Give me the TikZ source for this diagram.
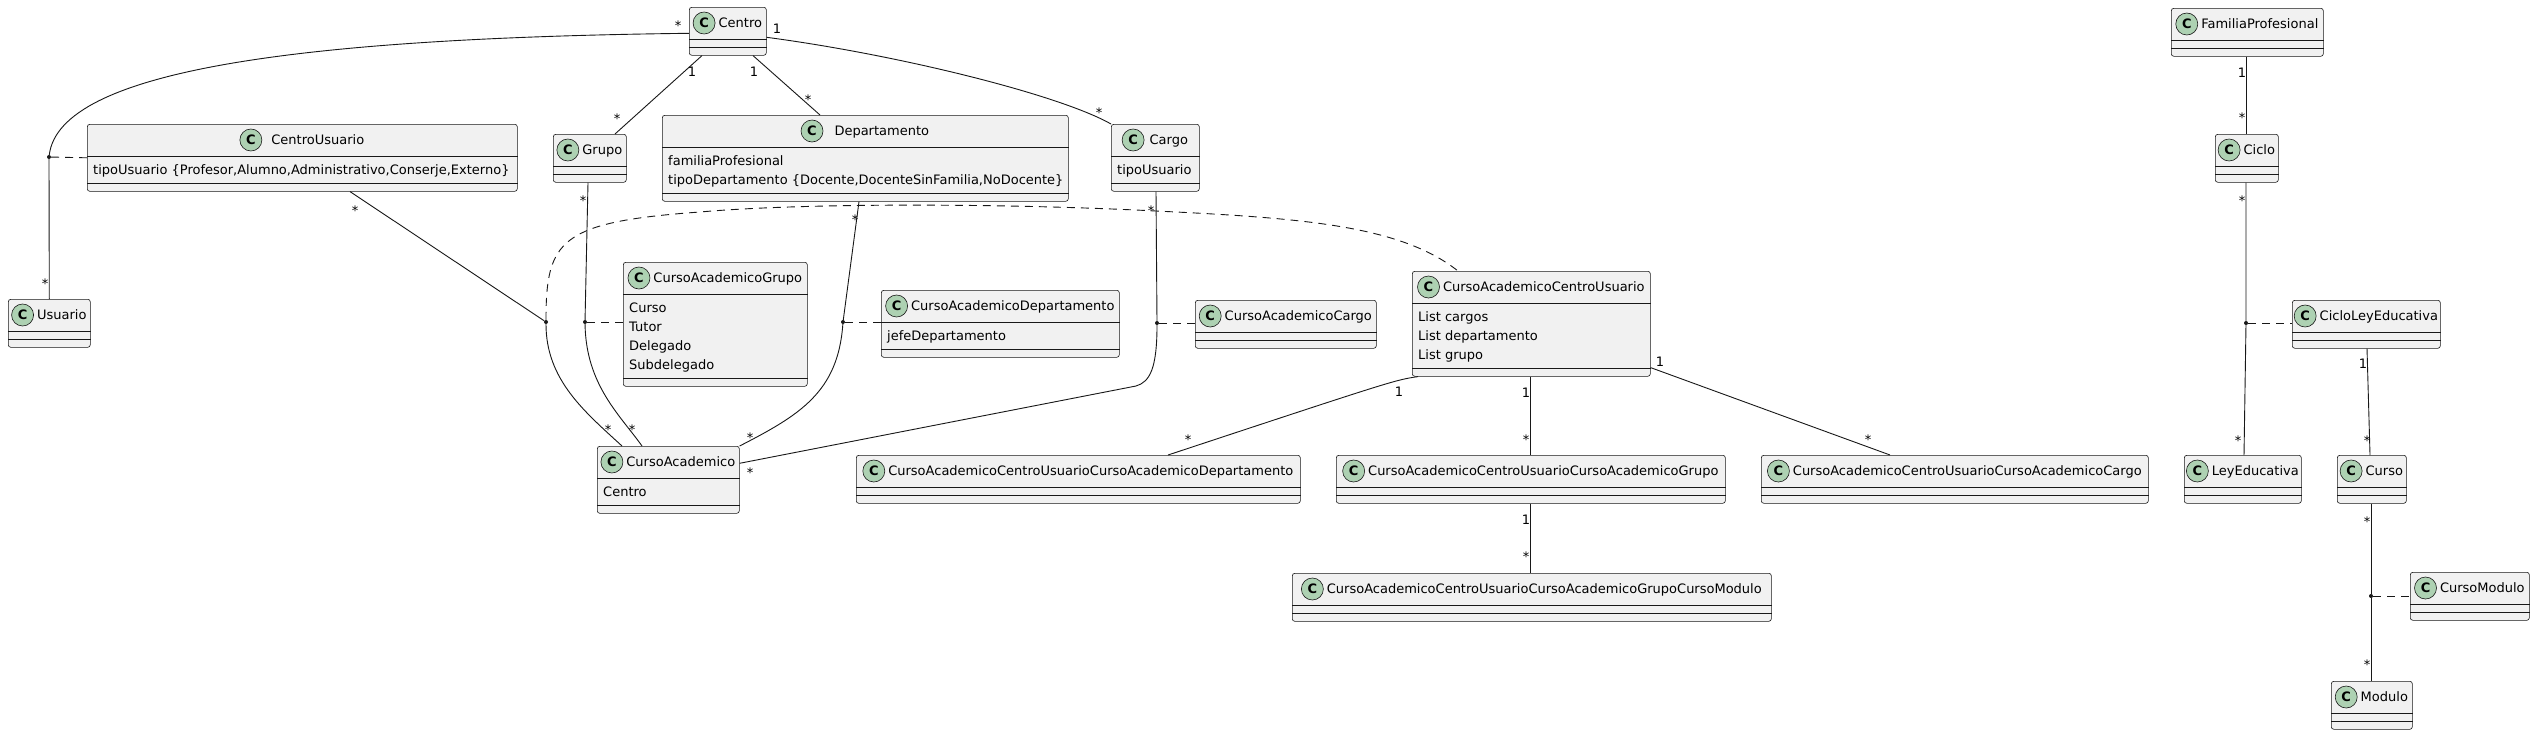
\documentclass[tikz,border=0pt]{standalone}
\usepackage{fontspec}
\setmainfont{DejaVu Sans}
\usetikzlibrary{positioning}

\definecolor{clsbg}{HTML}{F1F1F1}
\definecolor{clsline}{HTML}{181818}
\definecolor{spotbg}{HTML}{ADD1B2}

\def\txt{\fontsize{13}{15}\selectfont}

\tikzset{
  clsbox/.style={draw=clsline, line width=0.6pt, fill=clsbg, rounded corners=2.5pt, inner sep=0},
  clssep/.style={draw=clsline, line width=0.6pt},
  clsname/.style={inner sep=0, text height=9.5pt, text depth=0pt, font=\txt},
  clsattr/.style={inner sep=0, anchor=base west, font=\txt},
  spot/.style={circle, draw=clsline, line width=0.6pt, fill=spotbg, minimum size=22pt, inner sep=0, font=\txt\bfseries},
  assoc/.style={draw=clsline, line width=0.9pt},
  assocdash/.style={assoc, dash pattern=on 8pt off 6pt},
  adot/.style={circle, fill=clsline, inner sep=0, minimum size=4pt},
  mult/.style={inner sep=0, font=\txt},
  star/.style={mult, yshift=-3pt}
}

% [gap], name, x, y, width, number of attributes, title, attributes
\newcommand\umlclass[8][3]{
  \pgfmathsetmacro\clsh{48+19*#6}
  \pgfmathsetmacro\clsgap{(22+#1)/2}
  \node[clsbox, minimum width=#5pt, minimum height=\clsh pt, anchor=north west] (#2) at (#3,#4) {};
  \draw[clssep] ([yshift=-32pt]#2.north west) -- ([yshift=-32pt]#2.north east);
  \draw[clssep] ([yshift=8pt]#2.south west) -- ([yshift=8pt]#2.south east);
  \node[clsname] (#2-name) at ([xshift=\clsgap pt,yshift=-16pt]#2.north) {#7};
  \node[spot, left=#1pt of #2-name] (#2-spot) {C};
  \ifnum#6>0
    \foreach \a [count=\i] in {#8} {
      \node[clsattr] at ([xshift=6pt,yshift={-50.5pt-19pt*(\i-1)}]#2.north west) {\a};
    }
  \fi
}

\begin{document}
\begin{tikzpicture}[x=1pt, y=-1pt]
  \fill[white] (0,0) rectangle (2535,734);
  \useasboundingbox (0,0) rectangle (2535,734);

  \umlclass{centro}{689}{7}{77}{0}{Centro}{}
  \umlclass{usuario}{8}{299}{82}{0}{Usuario}{}
  \umlclass[9]{centrousuario}{87}{124}{430}{1}{CentroUsuario}{{tipoUsuario \{Profesor,Alumno,Administrativo,Conserje,Externo\}}}
  \umlclass{grupo}{553}{134}{73}{0}{Grupo}{}
  \umlclass[11]{departamento}{662}{115}{406}{2}{Departamento}{familiaProfesional,{tipoDepartamento \{Docente,DocenteSinFamilia,NoDocente\}}}
  \umlclass[5]{cargo}{1111}{124}{88}{1}{Cargo}{tipoUsuario}
  \umlclass{cagrupo}{623}{262}{184}{4}{CursoAcademicoGrupo}{Curso,Tutor,Delegado,Subdelegado}
  \umlclass{cadep}{881}{290}{238}{1}{CursoAcademicoDepartamento}{jefeDepartamento}
  \umlclass{cacargo}{1195}{300}{181}{0}{CursoAcademicoCargo}{}
  \umlclass{cacu}{1412}{271}{238}{3}{CursoAcademicoCentroUsuario}{List cargos,List departamento,List grupo}
  \umlclass{curacad}{597}{446}{142}{1}{CursoAcademico}{Centro}
  \umlclass{cacudep}{856}{455}{444}{0}{CursoAcademicoCentroUsuarioCursoAcademicoDepartamento}{}
  \umlclass{cacugrupo}{1336}{455}{389}{0}{CursoAcademicoCentroUsuarioCursoAcademicoGrupo}{}
  \umlclass{cacucargo}{1761}{455}{387}{0}{CursoAcademicoCentroUsuarioCursoAcademicoCargo}{}
  \umlclass{cacugcm}{1292}{573}{479}{0}{CursoAcademicoCentroUsuarioCursoAcademicoGrupoCursoModulo}{}
  \umlclass{familia}{2171}{8}{152}{0}{FamiliaProfesional}{}
  \umlclass{ciclo}{2215}{134}{63}{0}{Ciclo}{}
  \umlclass{cicloley}{2292}{300}{148}{0}{CicloLeyEducativa}{}
  \umlclass{ley}{2184}{455}{117}{0}{LeyEducativa}{}
  \umlclass{curso}{2337}{455}{69}{0}{Curso}{}
  \umlclass{cursomodulo}{2410}{572}{119}{0}{CursoModulo}{}
  \umlclass{modulo}{2331}{681}{81}{0}{Modulo}{}

  \node[adot] (du) at (49,157) {};
  \node[adot] (dcu) at (546,322) {};
  \node[adot] (dg) at (585,322) {};
  \node[adot] (dd) at (843,322) {};
  \node[adot] (dc) at (1157,323) {};
  \node[adot] (dl) at (2246,323) {};
  \node[adot] (dm) at (2371,596) {};

  \draw[assoc] ([yshift=-2pt]centro.west) .. controls (300,38) and (60,70) .. (du) -- (usuario.north);
  \draw[assoc] (702,0 |- centro.south) -- (615,0 |- grupo.north);
  \draw[assoc] (753,0 |- centro.south) -- (820,0 |- departamento.north);
  \draw[assoc] ([yshift=-6pt]centro.east) .. controls (900,55) and (1060,95) .. (cargo.north west);
  \draw[assoc] (350,0 |- centrousuario.south) -- (dcu) .. controls (546,380) and (585,412) .. (622,0 |- curacad.north);
  \draw[assoc] (588,0 |- grupo.south) -- (dg) .. controls (586,385) and (620,415) .. (642,0 |- curacad.north);
  \draw[assoc] (859,0 |- departamento.south) -- (dd) .. controls (838,392) and (800,415) .. (curacad.north east);
  \draw[assoc] (1156,0 |- cargo.south) -- (dc) .. controls (1157,368) and (1150,382) .. (1136,386) -- ([yshift=16.5pt]curacad.east);

  \draw[assocdash] (du) -- (centrousuario.west);
  \draw[assocdash] (dg) -- (dg -| cagrupo.west);
  \draw[assocdash] (dd) -- (dd -| cadep.west);
  \draw[assocdash] (dc) -- (dc -| cacargo.west);
  \draw[assocdash] (dcu) .. controls (546,240) and (560,222) .. (700,212) .. controls (800,203) and (1000,203) .. (1156,211) .. controls (1300,218) and (1400,225) .. (1458,0 |- cacu.north);

  \draw[assoc] (1418,0 |- cacu.south) .. controls (1395,380) .. (1168,0 |- cacudep.north);
  \draw[assoc] (1530,0 |- cacu.south) -- (1530,0 |- cacugrupo.north);
  \draw[assoc] ([yshift=9pt]cacu.south east) -- (1890,0 |- cacucargo.north);
  \draw[assoc] (1530,0 |- cacugrupo.south) -- (1530,0 |- cacugcm.north);

  \draw[assoc] (2246,0 |- familia.south) -- (2246,0 |- ciclo.north);
  \draw[assoc] (2246,0 |- ciclo.south) -- (dl) -- (2244,0 |- ley.north);
  \draw[assocdash] (dl) -- (dl -| cicloley.west);
  \draw[assoc] (2367,0 |- cicloley.south) -- (2370,0 |- curso.north);
  \draw[assoc] (2371,0 |- curso.south) -- (dm) -- (2371,0 |- modulo.north);
  \draw[assocdash] (dm) -- (dm -| cursomodulo.west);

  \node[star] (m-cen-usu) at (678,23) {*};
  \node[star] (m-usu) at (45,281) {*};
  \node[mult] (m-cen-gru) at (692,72) {1};
  \node[star] (m-gru) at (617,116) {*};
  \node[mult] (m-cen-dep) at (754,72) {1};
  \node[star] (m-dep) at (808,97) {*};
  \node[mult] (m-cen-car) at (777,29) {1};
  \node[star] (m-car) at (1099,110) {*};
  \node[star] (m-cu) at (355,208) {*};
  \node[star] (m-ca-cu) at (608,427) {*};
  \node[star] (m-gru-ca) at (583,198) {*};
  \node[star] (m-ca-gru) at (632,427) {*};
  \node[star] (m-dep-ca) at (855,217) {*};
  \node[star] (m-ca-dep) at (750,435) {*};
  \node[star] (m-car-ca) at (1151,208) {*};
  \node[star] (m-ca-car) at (750,470) {*};
  \node[mult] (m-cacu-dep) at (1399,392) {1};
  \node[star] (m-cacudep) at (1188,437) {*};
  \node[mult] (m-cacu-gru) at (1526,393) {1};
  \node[star] (m-cacugru) at (1526,437) {*};
  \node[mult] (m-cacu-car) at (1660,362) {1};
  \node[star] (m-cacucar) at (1868,437) {*};
  \node[mult] (m-cacugru-mod) at (1526,520) {1};
  \node[star] (m-cacugcm) at (1526,554) {*};
  \node[mult] (m-fam) at (2242,73) {1};
  \node[star] (m-fam-cic) at (2242,115) {*};
  \node[star] (m-cic) at (2242,198) {*};
  \node[star] (m-ley) at (2238,438) {*};
  \node[mult] (m-cle) at (2363,364) {1};
  \node[star] (m-cle-cur) at (2367,438) {*};
  \node[star] (m-cur) at (2367,519) {*};
  \node[star] (m-mod) at (2367,662) {*};
\end{tikzpicture}
\end{document}
